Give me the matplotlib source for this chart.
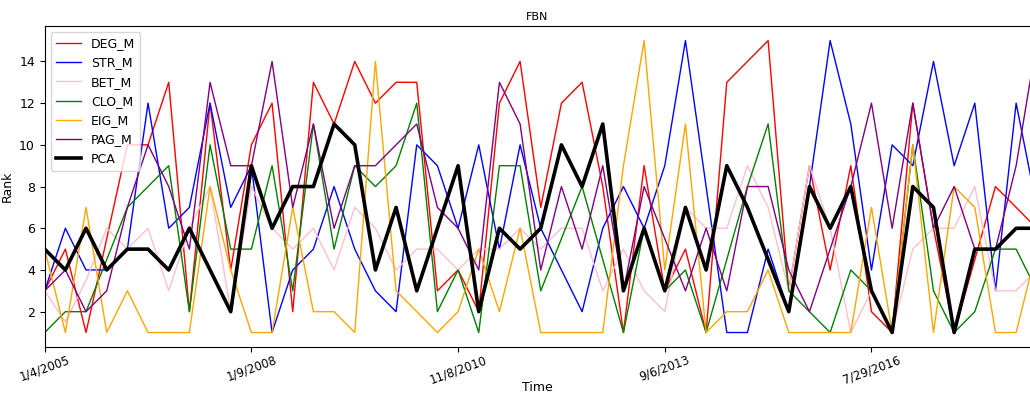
import numpy as np
import matplotlib
matplotlib.use("Agg")
import matplotlib.pyplot as plt

# ranks per period
deg_m = [3, 5, 1, 5.5, 10, 10, 13, 2, 12, 4, 10,
         12, 2, 13, 11, 14, 12, 13, 13, 3, 4,
         2, 12, 14, 7, 12, 13, 8, 1, 9, 3,
         5, 1, 13, 14, 15, 3, 9, 4, 9, 2,
         1, 12, 6, 1, 4.5, 8, 7, 6]
str_m = [3, 6, 4, 4, 5, 12, 6, 7, 12, 7, 9,
         1, 4, 5, 8, 5, 3, 2, 10, 9, 6,
         10, 5, 10, 6, 4, 2, 6, 8, 6, 9,
         15, 8, 1, 1, 5, 2, 8, 15, 11, 4,
         10, 9, 14, 9, 12, 3, 12, 7]
bet_m = [3, 1.5, 3.5, 6, 5, 6, 3, 6, 8, 2, 8,
         6, 5, 6, 4, 7, 6, 4, 5, 5, 4,
         5, 5, 6, 5, 6, 6, 3, 5, 3, 2,
         7, 6, 6, 9, 7, 3, 9, 6, 1, 3,
         1, 5, 6, 6, 8, 3, 3, 4]
clo_m = [1, 2, 2, 4.5, 7, 8, 9, 2, 10, 5, 5,
         9, 3, 11, 5, 9, 8, 9, 12, 2, 4,
         1, 9, 9, 3, 5.5, 8, 4.5, 1, 6, 3,
         4, 1, 4.5, 8, 11, 3, 2, 1, 4, 3,
         1, 10, 3, 1, 2, 5, 5, 3]
eig_m = [5, 1, 7, 1, 3, 1, 1, 1, 8, 4, 1,
         1, 7, 2, 2, 1, 14, 3, 2, 1, 2,
         5, 2, 6, 1, 1, 1, 1, 9, 15, 4,
         11, 1, 2, 2, 4, 1, 1, 1, 1, 7,
         1, 10, 1, 8, 7, 1, 1, 5]
pag_m = [3, 4, 2, 3, 7, 10, 8, 5, 13, 9, 9,
         14, 7, 11, 6, 9, 9, 10, 11, 7, 6,
         4, 13, 11, 4, 8, 5, 9, 3, 8, 5.5,
         3, 6, 3, 8, 8, 4, 2, 5, 8, 12,
         6, 12, 6, 8, 5, 5, 9, 15]
pca = [5, 4, 6, 4, 5, 5, 4, 6, 4, 2, 9,
       6, 8, 8, 11, 10, 4, 7, 3, 6, 9,
       2, 6, 5, 6, 10, 8, 11, 3, 6, 3,
       7, 4, 9, 7, 4.5, 2, 8, 6, 8, 3,
       1, 8, 7, 1, 5, 5, 6, 6]

tick_labels = ["1/4/2005", "1/9/2008", "11/8/2010", "9/6/2013", "7/29/2016"]

x = np.arange(len(pca))

fig = plt.figure(figsize=(10.3, 3.94), dpi=100)
ax = fig.add_axes([0.0434, 0.119, 0.9566, 0.815])

ax.plot(x, deg_m, color='red', linewidth=1, label='DEG_M')
ax.plot(x, str_m, color='blue', linewidth=1, label='STR_M')
ax.plot(x, bet_m, color='pink', linewidth=1, label='BET_M')
ax.plot(x, clo_m, color='green', linewidth=1, label='CLO_M')
ax.plot(x, eig_m, color='orange', linewidth=1, label='EIG_M')
ax.plot(x, pag_m, color='purple', linewidth=1, label='PAG_M')
ax.plot(x, pca, color='black', linewidth=2.6, label='PCA')

ax.set_xlim(0, 47.67)
ax.set_xticks(np.arange(0, len(pca), 10)[:len(tick_labels)])
ax.set_xticklabels(tick_labels, rotation=20, fontsize=8.5)
ax.tick_params(axis='x', pad=1)
ax.set_yticks([2, 4, 6, 8, 10, 12, 14])
ax.tick_params(axis='y', labelsize=9)
ax.spines['right'].set_visible(False)

ax.set_title('FBN', fontsize=8, pad=4)
ax.set_xlabel('Time', fontsize=9, labelpad=-4)
ax.set_ylabel('Rank', fontsize=9)
ax.legend(loc='upper left', fontsize=9)

fig.savefig('out.png', dpi=100)
